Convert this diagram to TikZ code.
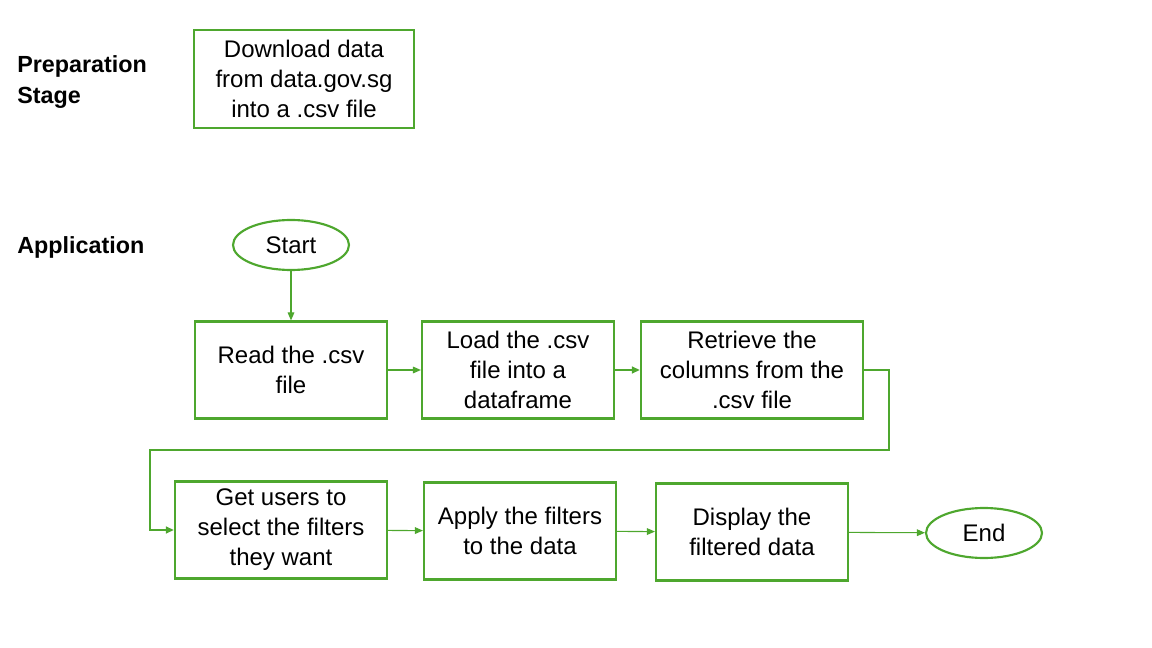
\documentclass[tikz,border=0pt]{standalone}
\usepackage{fontspec}
\setmainfont{Liberation Sans}
\usepackage{tikz}
\usetikzlibrary{arrows.meta,shapes.geometric}
\definecolor{flowgreen}{RGB}{78,167,46}

\begin{document}
\begin{tikzpicture}[x=0.75pt,y=-0.75pt,
    every node/.style={font=\fontsize{18}{22.5}\selectfont, align=center, inner sep=0pt},
    stepbox/.style={draw=flowgreen, line width=1.6pt, rectangle, minimum width=144pt, minimum height=72.75pt},
    terminal/.style={draw=flowgreen, line width=1.6pt, ellipse, minimum width=87pt, minimum height=37.5pt},
    stagelabel/.style={font=\fontsize{17.5}{23}\selectfont\bfseries, align=left, anchor=west},
    flow/.style={draw=flowgreen, line width=0.8pt, -{Triangle[length=6pt,width=5pt]}},
    thickflow/.style={draw=flowgreen, line width=1.6pt, -{Triangle[length=6pt,width=5pt]}}]
    \useasboundingbox (0,0) rectangle (1152,648);
    % stage labels
    \node [stagelabel] (prep) at (17,82) {Preparation\\Stage};
    \node [stagelabel] (app) at (17,247) {Application};
    % preparation
    \node [stepbox, minimum width=165pt, minimum height=73.5pt] (download) at (304,79) {Download data\\from data.gov.sg\\into a .csv file};
    % application, first row
    \node [terminal] (start) at (291,245) {Start};
    \node [stepbox] (read) at (291,370) {Read the .csv\\file};
    \node [stepbox] (load) at (518,370) {Load the .csv\\file into a\\dataframe};
    \node [stepbox, minimum width=166.5pt] (retrieve) at (752,370) {Retrieve the\\columns from the\\.csv file};
    % second row
    \node [stepbox, minimum width=159pt] (users) at (281,530) {Get users to\\select the filters\\they want};
    \node [stepbox] (apply) at (520,531) {Apply the filters\\to the data};
    \node [stepbox] (display) at (752,532) {Display the\\filtered data};
    \node [terminal] (end) at (984,533) {End};
    % connectors
    \draw [flow] (start) -- (read);
    \draw [flow] (read) -- (load);
    \draw [thickflow] (load) -- (retrieve);
    \draw [thickflow] (retrieve.east) -- ++(25,0) |- (150,450) |- (users.west);
    \draw [flow] (users) -- (apply);
    \draw [flow] (apply) -- (display);
    \draw [flow] (display) -- (end);
\end{tikzpicture}
\end{document}
